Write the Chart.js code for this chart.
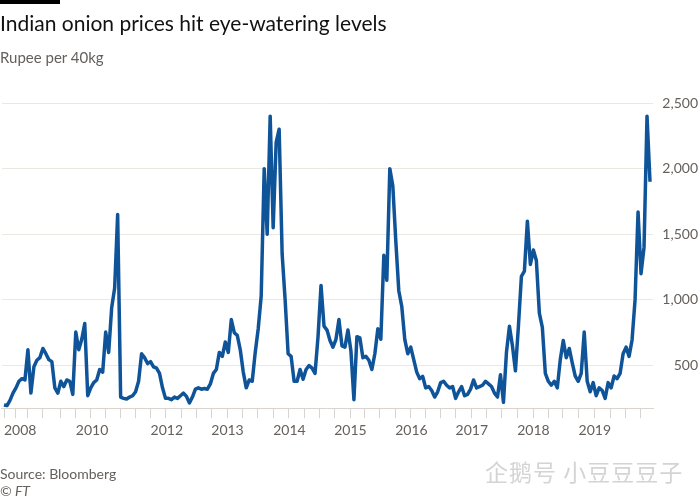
<!DOCTYPE html>
<html>
<head>
<meta charset="utf-8">
<script src="https://cdn.jsdelivr.net/npm/chart.js@4/dist/chart.umd.min.js"></script>
<style>
  body { margin: 0; background: #fff; }
  #wrap { position: relative; width: 698px; height: 498px; overflow: hidden; font-family: Lato, "Open Sans", sans-serif; }
  #chart-box { position: absolute; left: 0; top: 0; width: 698px; height: 498px; }
  .bar { position: absolute; left: 0; top: 0; width: 60px; height: 4px; background: #000; }
  .title { position: absolute; left: 0; top: 10px; font-size: 21px; line-height: 26px; color: #111; white-space: nowrap; }
  .subtitle { position: absolute; left: 0; top: 48px; font-size: 15px; line-height: 18px; color: #66605c; }
  .source { position: absolute; left: 0; top: 465px; font-size: 14px; line-height: 17px; color: #66605c; }
  .credit { position: absolute; left: 0; top: 482px; font-size: 14px; line-height: 17px; color: #66605c; font-style: italic; }
  .mark { position: absolute; left: 485px; top: 458px; font-size: 23px; line-height: 27px; letter-spacing: 1px; color: #d4d4d4; font-family: "Noto Sans CJK SC", sans-serif; white-space: nowrap; }
</style>
</head>
<body>
<div id="wrap">
  <div id="chart-box"><canvas id="onionChart"></canvas></div>
  <div class="bar"></div>
  <div class="title">Indian onion prices hit eye-watering levels</div>
  <div class="subtitle">Rupee per 40kg</div>
  <div class="source">Source: Bloomberg</div>
  <div class="credit">© FT</div>
  <div class="mark">企鹅号 小豆豆豆子</div>
</div>
<script>
// Onion price, rupee per 40kg, sampled roughly every 2.5 weeks
const prices = [
  200, 195, 235, 290, 330, 380, 400, 390, 620, 290,
  490, 540, 560, 630, 590, 545, 530, 330, 290, 380,
  340, 390, 380, 280, 755, 620, 700, 820, 270, 330,
  370, 390, 470, 450, 755, 600, 940, 1090, 1650, 260,
  250, 245, 260, 270, 300, 380, 590, 560, 515, 530,
  490, 480, 440, 330, 250, 250, 240, 260, 250, 270,
  290, 265, 215, 260, 320, 330, 320, 325, 320, 360,
  440, 470, 600, 570, 680, 600, 850, 750, 730, 620,
  450, 330, 390, 380, 600, 780, 1030, 2000, 1500, 2400,
  1550, 2200, 2300, 1350, 1000, 590, 570, 380, 380, 470,
  395, 470, 500, 480, 440, 720, 1110, 800, 770, 690,
  640, 700, 850, 650, 640, 770, 610, 240, 720, 710,
  560, 570, 540, 470, 590, 780, 700, 1340, 1150, 2000,
  1870, 1450, 1070, 950, 700, 590, 640, 545, 450, 400,
  417, 330, 340, 310, 260, 300, 370, 380, 350, 330,
  340, 250, 300, 340, 270, 280, 320, 390, 330, 340,
  350, 380, 360, 340, 290, 260, 430, 220, 600, 800,
  650, 460, 800, 1180, 1220, 1600, 1270, 1380, 1300, 900,
  790, 440, 380, 350, 380, 330, 545, 690, 560, 630,
  520, 420, 380, 440, 755, 380, 300, 370, 270, 330,
  310, 250, 370, 330, 420, 400, 440, 590, 640, 570,
  695, 1000, 1670, 1200, 1400, 2400, 1900
];

// x-axis ticks (in sample positions) and year labels
const quarterTicks = [0, 4, 8, 13, 19, 24, 29, 34, 39, 44, 49, 54, 59.3, 64.3, 69.3, 74.6, 79.7,
  84.9, 90, 95.2, 100.4, 105.4, 110.4, 115.7, 120.7, 125.7, 130.8, 135.8, 141, 146, 151, 156.2,
  161.3, 166.3, 171.6, 176.9, 181.9, 186.9, 192.1, 197.4, 202.7, 207.7, 212.9];
const yearTicks = [0, 24, 49, 69.3, 90, 110.4, 130.8, 151, 171.6, 192.1];
const yearLabels = ['2008', '2010', '2012', '2013', '2014', '2015', '2016', '2017', '2018', '2019'];
const yTicks = [500, 1000, 1500, 2000, 2500];

const points = prices.map((v, i) => ({ x: i, y: v }));
const axisFont = { family: 'Lato, "Open Sans", sans-serif', size: 14 };

const ctx = document.getElementById('onionChart').getContext('2d');
new Chart(ctx, {
  type: 'line',
  data: {
    datasets: [{
      data: points,
      borderColor: '#0f5499',
      borderWidth: 3.5,
      borderJoinStyle: 'round',
      pointRadius: 0,
      tension: 0,
      fill: false
    }]
  },
  options: {
    responsive: true,
    maintainAspectRatio: false,
    animation: false,
    layout: { padding: { top: 103, bottom: 55, left: 0, right: 0 } },
    plugins: {
      legend: { display: false },
      tooltip: { enabled: false }
    },
    scales: {
      x: {
        type: 'linear',
        min: -0.67,
        max: 217,
        afterBuildTicks: scale => { scale.ticks = quarterTicks.map(v => ({ value: v })); },
        grid: { drawOnChartArea: false, drawTicks: true, tickLength: 10, tickColor: '#d9d4cf' },
        border: { display: true, color: '#d9d4cf' },
        ticks: {
          autoSkip: false,
          maxRotation: 0,
          align: 'start',
          padding: 4,
          color: '#66605c',
          font: axisFont,
          callback: function(value) {
            const k = yearTicks.indexOf(value);
            return k >= 0 ? yearLabels[k] : '';
          }
        }
      },
      y: {
        position: 'right',
        min: 175,
        max: 2500,
        afterBuildTicks: scale => { scale.ticks = yTicks.map(v => ({ value: v })); },
        afterFit: scale => { scale.width = 45; },
        grid: { color: '#ebe8e4', drawTicks: false },
        border: { display: false },
        ticks: {
          padding: 5,
          crossAlign: 'far',
          color: '#66605c',
          font: axisFont,
          callback: value => value.toLocaleString('en-US')
        }
      }
    }
  }
});
</script>
</body>
</html>
